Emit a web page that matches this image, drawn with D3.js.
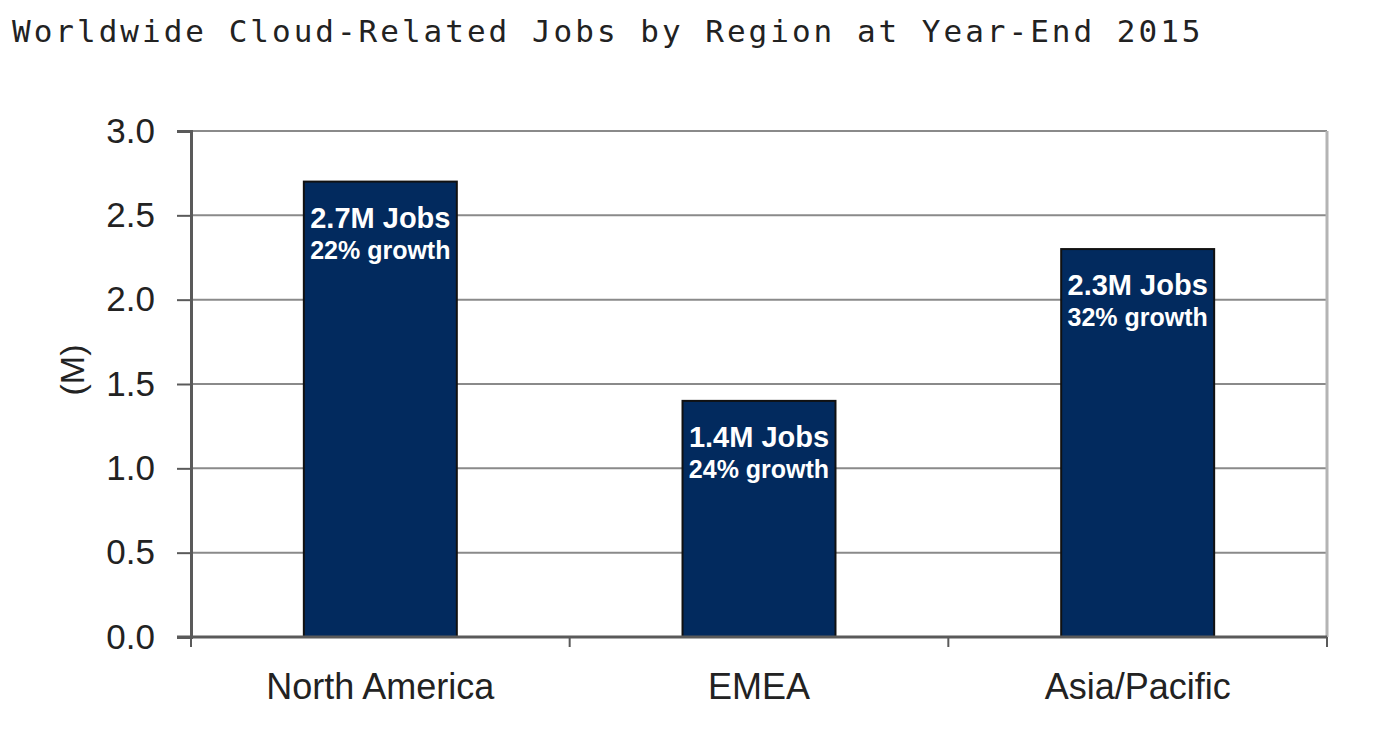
<!DOCTYPE html>
<html>
<head>
<meta charset="utf-8">
<script src="https://cdn.jsdelivr.net/npm/d3@7"></script>
<style>
  body { margin: 0; background: #fff; }
  svg { display: block; }
</style>
</head>
<body>
<svg id="chart" width="1374" height="750"></svg>
<script>
const regions = ['North America', 'EMEA', 'Asia/Pacific'];
const jobs = [2.7, 1.4, 2.3];
const jobLabels = ['2.7M Jobs', '1.4M Jobs', '2.3M Jobs'];
const growthLabels = ['22% growth', '24% growth', '32% growth'];
const yTicks = [0, 0.5, 1.0, 1.5, 2.0, 2.5, 3.0];

const svg = d3.select('#chart');

svg.append('text')
  .attr('x', 12).attr('y', 42)
  .attr('font-family', 'DejaVu Sans Mono')
  .attr('font-size', 31)
  .attr('letter-spacing', 3)
  .attr('fill', '#222')
  .text('Worldwide Cloud-Related Jobs by Region at Year-End 2015');

const x = d3.scaleBand()
  .domain(regions)
  .range([191, 1327])
  .paddingInner(0.596)
  .paddingOuter(0.298);

const y = d3.scaleLinear()
  .domain([0, 3])
  .range([637, 131]);

// gridlines
svg.append('g')
  .selectAll('line')
  .data(yTicks.slice(1))
  .join('line')
    .attr('x1', 191).attr('x2', 1327)
    .attr('y1', d => y(d)).attr('y2', d => y(d))
    .attr('stroke', '#8a8a8a')
    .attr('stroke-width', 2);

// right border
svg.append('line')
  .attr('x1', 1327).attr('x2', 1327)
  .attr('y1', y(3)).attr('y2', y(0))
  .attr('stroke', '#b4b4b4')
  .attr('stroke-width', 3);

// bars
svg.append('g')
  .selectAll('rect')
  .data(jobs)
  .join('rect')
    .attr('x', (d, i) => x(regions[i]))
    .attr('y', d => y(d))
    .attr('width', x.bandwidth())
    .attr('height', d => y(0) - y(d))
    .attr('fill', '#022a5e')
    .attr('stroke', '#111')
    .attr('stroke-width', 2);

// bar labels
const labels = svg.append('g')
  .attr('font-family', 'Liberation Sans, Arial, sans-serif')
  .attr('font-weight', 'bold')
  .attr('fill', '#fff')
  .attr('text-anchor', 'middle');

labels.selectAll('text.jobs')
  .data(jobs)
  .join('text')
    .attr('class', 'jobs')
    .attr('x', (d, i) => x(regions[i]) + x.bandwidth() / 2)
    .attr('y', d => y(d) + 46)
    .attr('font-size', 29)
    .text((d, i) => jobLabels[i]);

labels.selectAll('text.growth')
  .data(jobs)
  .join('text')
    .attr('class', 'growth')
    .attr('x', (d, i) => x(regions[i]) + x.bandwidth() / 2)
    .attr('y', d => y(d) + 77)
    .attr('font-size', 25)
    .text((d, i) => growthLabels[i]);

// y axis
const yAxis = svg.append('g')
  .attr('transform', 'translate(191,0)')
  .call(d3.axisLeft(y).tickValues(yTicks).tickFormat(d3.format('.1f')).tickSize(14).tickPadding(22));
yAxis.select('.domain').attr('stroke', '#5a5a5a').attr('stroke-width', 3);
yAxis.selectAll('.tick line').attr('stroke', '#5a5a5a').attr('stroke-width', 2);
yAxis.selectAll('.tick text')
  .attr('font-family', 'Liberation Sans, Arial, sans-serif')
  .attr('font-size', 35)
  .attr('fill', '#222');

// x axis
const xAxis = svg.append('g')
  .attr('transform', 'translate(0,637)')
  .call(d3.axisBottom(x).tickSize(0).tickPadding(36));
xAxis.select('.domain').remove();
xAxis.selectAll('.tick text')
  .attr('font-family', 'Liberation Sans, Arial, sans-serif')
  .attr('font-size', 36)
  .attr('fill', '#222');

svg.append('line')
  .attr('x1', 177).attr('x2', 1327)
  .attr('y1', y(0)).attr('y2', y(0))
  .attr('stroke', '#5a5a5a')
  .attr('stroke-width', 3);

// category boundary ticks
svg.append('g')
  .selectAll('line')
  .data(regions)
  .join('line')
    .attr('x1', d => x(d) - x.step() * x.paddingOuter())
    .attr('x2', d => x(d) - x.step() * x.paddingOuter())
    .attr('y1', y(0)).attr('y2', y(0) + 10)
    .attr('stroke', '#5a5a5a')
    .attr('stroke-width', 2);
svg.append('line')
  .attr('x1', 1327).attr('x2', 1327)
  .attr('y1', y(0)).attr('y2', y(0) + 10)
  .attr('stroke', '#5a5a5a')
  .attr('stroke-width', 2);

// y title
svg.append('text')
  .attr('transform', 'translate(84,370) rotate(-90)')
  .attr('text-anchor', 'middle')
  .attr('font-family', 'Liberation Sans, Arial, sans-serif')
  .attr('font-size', 34)
  .attr('fill', '#222')
  .text('(M)');
</script>
</body>
</html>
